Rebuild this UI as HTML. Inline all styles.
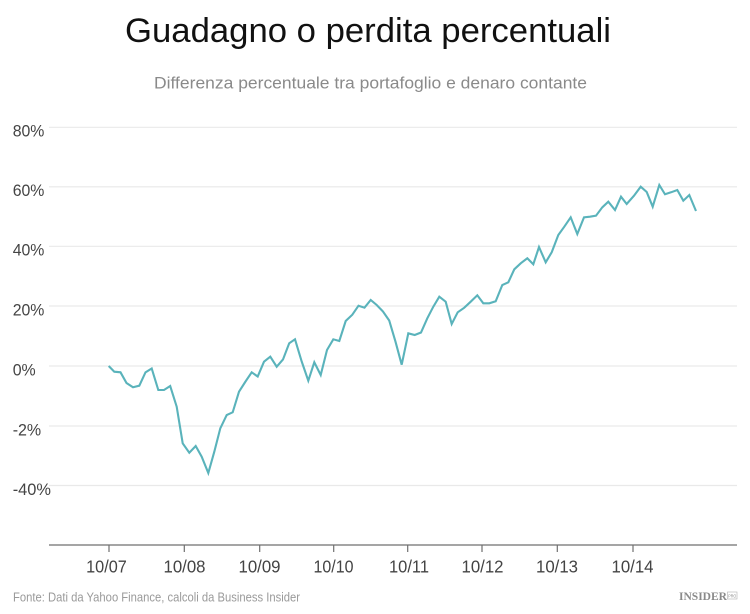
<!DOCTYPE html>
<html>
<head>
<meta charset="utf-8">
<style>
  html, body { margin: 0; padding: 0; background: #ffffff; }
  body { width: 750px; height: 614px; overflow: hidden; }
  svg { display: block; }
  text { font-family: "Liberation Sans", "DejaVu Sans", sans-serif; }
</style>
</head>
<body>
<svg width="750" height="614" viewBox="0 0 750 614" xmlns="http://www.w3.org/2000/svg">
  <rect x="0" y="0" width="750" height="614" fill="#ffffff"/>

  <!-- Title -->
  <text x="125" y="42" font-size="34" fill="#111111" textLength="486" lengthAdjust="spacingAndGlyphs">Guadagno o perdita percentuali</text>
  <!-- Subtitle -->
  <text x="154" y="88.5" font-size="16.5" fill="#8a8a8a" textLength="433" lengthAdjust="spacingAndGlyphs">Differenza percentuale tra portafoglio e denaro contante</text>

  <!-- Gridlines -->
  <g stroke="#e9e9e9" stroke-width="1.2">
    <line x1="49" y1="127.3" x2="737" y2="127.3"/>
    <line x1="49" y1="186.8" x2="737" y2="186.8"/>
    <line x1="49" y1="246.3" x2="737" y2="246.3"/>
    <line x1="49" y1="306" x2="737" y2="306"/>
    <line x1="49" y1="366" x2="737" y2="366"/>
    <line x1="49" y1="426" x2="737" y2="426"/>
    <line x1="49" y1="485.5" x2="737" y2="485.5"/>
  </g>

  <!-- Y labels -->
  <g font-size="17" fill="#444444">
    <text x="12.7" y="136.7" textLength="31.7" lengthAdjust="spacingAndGlyphs">80%</text>
    <text x="12.7" y="196.2" textLength="31.7" lengthAdjust="spacingAndGlyphs">60%</text>
    <text x="12.7" y="255.7" textLength="31.7" lengthAdjust="spacingAndGlyphs">40%</text>
    <text x="12.7" y="315.4" textLength="31.7" lengthAdjust="spacingAndGlyphs">20%</text>
    <text x="12.7" y="375.4" textLength="23" lengthAdjust="spacingAndGlyphs">0%</text>
    <text x="12.7" y="435.4" textLength="28.5" lengthAdjust="spacingAndGlyphs">-2%</text>
    <text x="12.7" y="494.9" textLength="38.3" lengthAdjust="spacingAndGlyphs">-40%</text>
  </g>

  <!-- X axis -->
  <line x1="49" y1="545" x2="737" y2="545" stroke="#6f6f6f" stroke-width="1.3"/>
  <g stroke="#6f6f6f" stroke-width="1.2">
    <line x1="109" y1="545" x2="109" y2="552"/>
    <line x1="184.3" y1="545" x2="184.3" y2="552"/>
    <line x1="259.7" y1="545" x2="259.7" y2="552"/>
    <line x1="333.7" y1="545" x2="333.7" y2="552"/>
    <line x1="407.7" y1="545" x2="407.7" y2="552"/>
    <line x1="482" y1="545" x2="482" y2="552"/>
    <line x1="557.3" y1="545" x2="557.3" y2="552"/>
    <line x1="633" y1="545" x2="633" y2="552"/>
  </g>
  <g font-size="17.5" fill="#444444" text-anchor="middle">
    <text x="106.5" y="572.7" textLength="40.7" lengthAdjust="spacingAndGlyphs">10/07</text>
    <text x="184.5" y="572.7" textLength="42" lengthAdjust="spacingAndGlyphs">10/08</text>
    <text x="259.5" y="572.7" textLength="42" lengthAdjust="spacingAndGlyphs">10/09</text>
    <text x="333.5" y="572.7" textLength="40" lengthAdjust="spacingAndGlyphs">10/10</text>
    <text x="409" y="572.7" textLength="40" lengthAdjust="spacingAndGlyphs">10/11</text>
    <text x="482.5" y="572.7" textLength="42" lengthAdjust="spacingAndGlyphs">10/12</text>
    <text x="557" y="572.7" textLength="42" lengthAdjust="spacingAndGlyphs">10/13</text>
    <text x="632.5" y="572.7" textLength="42" lengthAdjust="spacingAndGlyphs">10/14</text>
  </g>

  <!-- Series -->
  <polyline fill="none" stroke="#5ab3bb" stroke-width="2.1" stroke-linejoin="miter" stroke-miterlimit="4"
    points="108.7,366 114.3,371.7 120.5,372.3 126.5,383 133,387.3 139.3,385.7 145.5,372.3 151.7,368.5 158.3,390 164,390 170.2,386 176.7,406.7 182.7,443.3 189.3,452.7 195.7,446 201.7,456.7 208.3,473 214.3,451.7 220.3,428.3 226.7,415 232.7,412.3 239,391.7 245.2,382 251.7,372.3 257.7,376.5 264,361.7 270.3,356.7 276.7,366.7 283,359.5 289.2,343.3 295,339.3 301.7,361.5 308.3,380.7 314.3,362.3 320.7,375 327,350 333.3,339.3 339.3,341 345.7,321 352.3,314.7 358.5,305.7 364.5,307.7 370.7,300 376.7,305 383,311.5 389.2,320.5 395.5,341.7 401.7,364.7 408.3,333.3 414.7,335 421,332.5 427.3,318.3 433.3,306.7 439.3,296.7 445.7,301.7 451.7,324 457.7,312.3 464.3,307.7 470.7,301.7 477.3,295.3 483.3,303.3 489.3,303.3 495.7,301.3 502.3,285 508.3,282.3 514.3,269.3 520.7,263.3 527.3,258.3 533.3,264.3 539,247 545.7,262.3 551.7,252.3 558.3,235 564.3,226.7 570.7,217.3 577.3,234 584,217.3 590,216.7 596,215.7 602.3,207.3 608.3,201.7 615,210 621,196.7 626.7,204 634,195.7 640.7,186.7 646.7,192 652.7,206.7 659.3,185 665,194.3 671,192.3 677.3,190 683.3,200.7 689.3,195 696,211"/>

  <!-- Footer -->
  <text x="13" y="601.5" font-size="13" fill="#9a9a9a" textLength="287" lengthAdjust="spacingAndGlyphs">Fonte: Dati da Yahoo Finance, calcoli da Business Insider</text>
  <text x="679" y="600" style="font-family: 'Liberation Serif', serif; font-weight: bold;" font-size="11.5" fill="#8a8a8a" textLength="48" lengthAdjust="spacingAndGlyphs">INSIDER</text>
  <rect x="727.5" y="592" width="9.5" height="7" fill="none" stroke="#b0b0b0" stroke-width="0.6"/>
  <text x="728.3" y="597.6" font-size="4.5" fill="#8a8a8a" textLength="8" lengthAdjust="spacingAndGlyphs">PRO</text>
</svg>
</body>
</html>
